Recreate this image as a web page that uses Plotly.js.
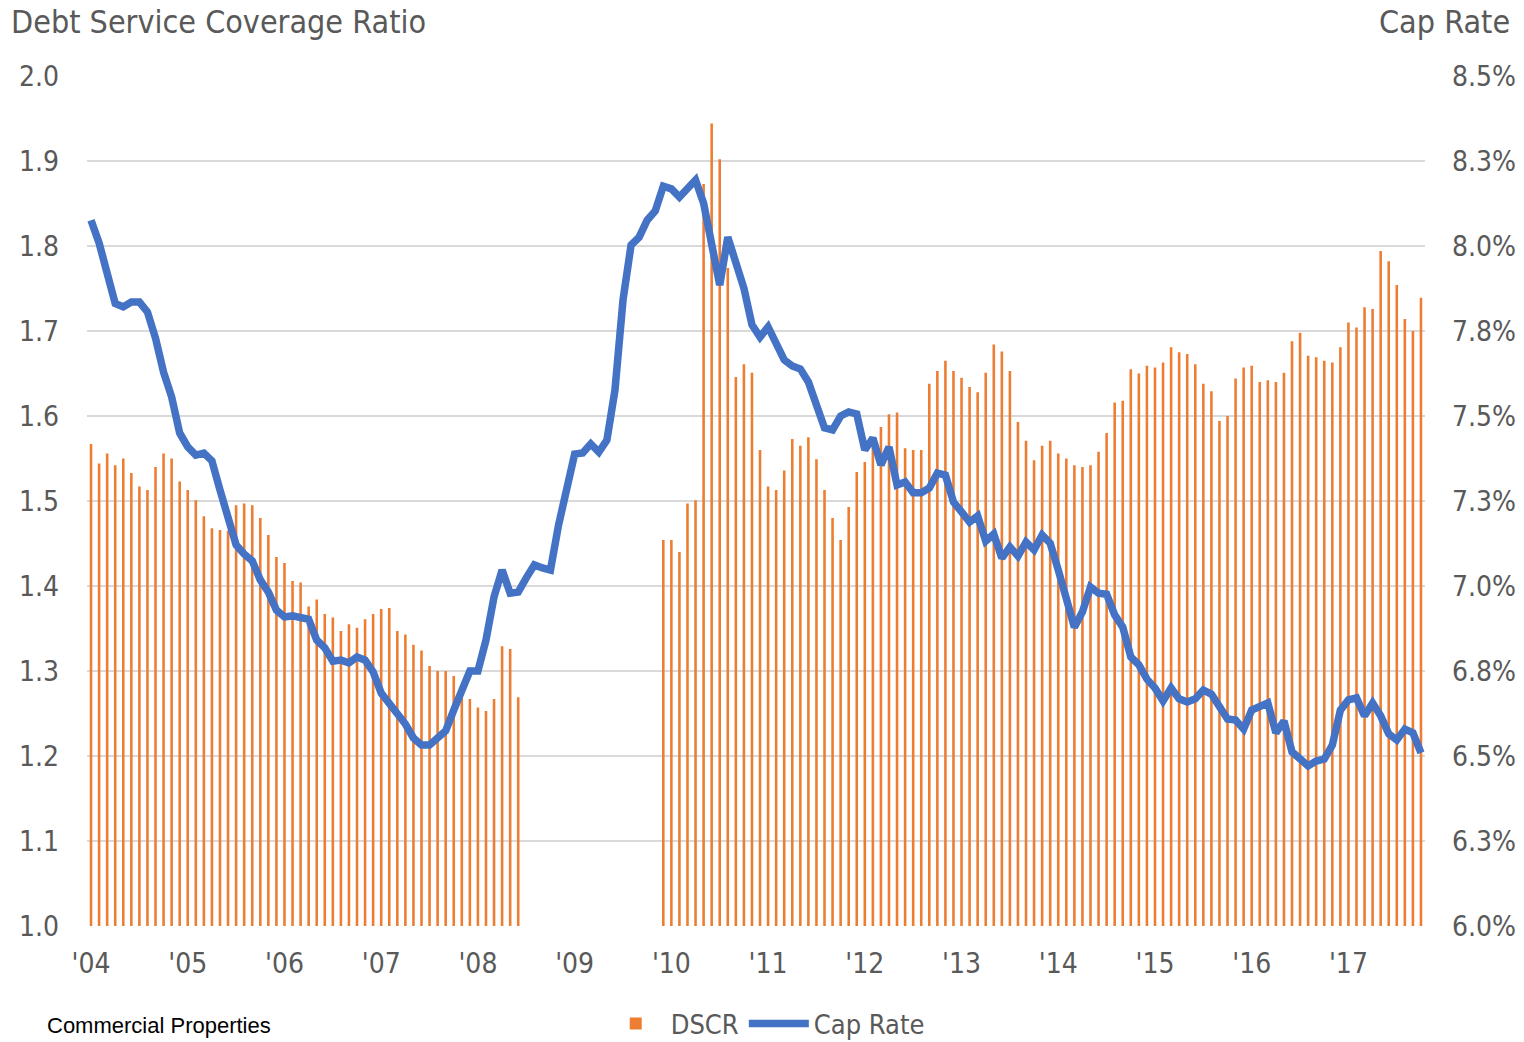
<!DOCTYPE html>
<html>
<head>
<meta charset="utf-8">
<script src="https://cdn.plot.ly/plotly-3.0.1.min.js"></script>
<style>
  html, body { margin: 0; padding: 0; background: #ffffff; }
  #chart { width: 1524px; height: 1042px; }
</style>
</head>
<body>
<div id="chart"></div>
<script>
// Monthly observations, Jan 2004 .. Oct 2017 (index 0 = Jan 2004)
const monthIndex = Array.from({length: 166}, (_, i) => i);

const yearTickPositions = [0, 12, 24, 36, 48, 60, 72, 84, 96, 108, 120, 132, 144, 156];
const yearTickLabels = ["'04", "'05", "'06", "'07", "'08", "'09", "'10", "'11", "'12", "'13", "'14", "'15", "'16", "'17"];

const dscr = [
  // 2004
  1.567, 1.544, 1.556, 1.542, 1.550, 1.533, 1.517, 1.513, 1.540, 1.556, 1.550, 1.523,
  // 2005
  1.513, 1.501, 1.482, 1.468, 1.466, 1.465, 1.495, 1.497, 1.495, 1.480, 1.460, 1.434,
  // 2006
  1.427, 1.406, 1.404, 1.376, 1.384, 1.367, 1.363, 1.347, 1.355, 1.351, 1.361, 1.367,
  // 2007
  1.373, 1.374, 1.347, 1.343, 1.331, 1.324, 1.306, 1.300, 1.300, 1.294, 1.274, 1.267,
  // 2008
  1.257, 1.253, 1.267, 1.329, 1.326, 1.269, null, null, null, null, null, null,
  // 2009
  null, null, null, null, null, null, null, null, null, null, null, 1.454,
  // 2010
  1.454, 1.440, 1.497, 1.501, 1.873, 1.944, 1.902, 1.774, 1.646, 1.661, 1.651, 1.560,
  // 2011
  1.517, 1.513, 1.536, 1.573, 1.565, 1.575, 1.549, 1.513, 1.480, 1.454, 1.493, 1.534,
  // 2012
  1.546, 1.565, 1.587, 1.602, 1.604, 1.562, 1.560, 1.560, 1.638, 1.653, 1.665, 1.653,
  // 2013
  1.645, 1.634, 1.628, 1.651, 1.684, 1.676, 1.653, 1.593, 1.571, 1.548, 1.565, 1.571,
  // 2014
  1.556, 1.550, 1.542, 1.540, 1.542, 1.558, 1.580, 1.616, 1.618, 1.655, 1.650, 1.659,
  // 2015
  1.657, 1.663, 1.681, 1.675, 1.673, 1.661, 1.638, 1.629, 1.594, 1.600, 1.644, 1.657,
  // 2016
  1.659, 1.640, 1.642, 1.640, 1.651, 1.688, 1.698, 1.671, 1.669, 1.665, 1.663, 1.681,
  // 2017
  1.710, 1.704, 1.728, 1.726, 1.794, 1.782, 1.754, 1.714, 1.700, 1.739
];

const capRate = [
  // 2004
  8.076, 8.009, 7.920, 7.831, 7.821, 7.835, 7.835, 7.806, 7.729, 7.629, 7.556, 7.450,
  // 2005
  7.409, 7.385, 7.391, 7.368, 7.282, 7.191, 7.121, 7.094, 7.074, 7.018, 6.982, 6.929,
  // 2006
  6.909, 6.912, 6.905, 6.902, 6.841, 6.818, 6.779, 6.782, 6.774, 6.791, 6.782, 6.747,
  // 2007
  6.685, 6.656, 6.621, 6.594, 6.553, 6.532, 6.532, 6.556, 6.574, 6.635, 6.688, 6.750,
  // 2008
  6.750, 6.841, 6.968, 7.047, 6.979, 6.982, 7.024, 7.062, 7.053, 7.047, 7.179, 7.282,
  // 2009
  7.388, 7.391, 7.418, 7.394, 7.429, 7.576, 7.841, 8.003, 8.026, 8.076, 8.103, 8.176,
  // 2010
  8.168, 8.144, 8.171, 8.194, 8.126, 7.997, 7.885, 8.026, 7.959, 7.876, 7.768, 7.732,
  // 2011
  7.762, 7.712, 7.665, 7.647, 7.638, 7.600, 7.529, 7.465, 7.459, 7.500, 7.512, 7.506,
  // 2012
  7.400, 7.435, 7.356, 7.409, 7.297, 7.306, 7.274, 7.274, 7.288, 7.332, 7.326, 7.247,
  // 2013
  7.218, 7.188, 7.206, 7.132, 7.153, 7.082, 7.115, 7.088, 7.129, 7.106, 7.150, 7.126,
  // 2014
  7.047, 6.965, 6.879, 6.924, 6.997, 6.979, 6.976, 6.915, 6.879, 6.791, 6.768, 6.726,
  // 2015
  6.700, 6.662, 6.700, 6.668, 6.659, 6.668, 6.694, 6.682, 6.641, 6.609, 6.606, 6.579,
  // 2016
  6.635, 6.644, 6.656, 6.568, 6.603, 6.512, 6.494, 6.471, 6.485, 6.491, 6.532, 6.635,
  // 2017
  6.665, 6.671, 6.618, 6.656, 6.618, 6.565, 6.547, 6.579, 6.568, 6.509
];

const leftTickVals = [1.0, 1.1, 1.2, 1.3, 1.4, 1.5, 1.6, 1.7, 1.8, 1.9, 2.0];
const leftTickText = ["1.0", "1.1", "1.2", "1.3", "1.4", "1.5", "1.6", "1.7", "1.8", "1.9", "2.0"];
const rightTickVals = [6.0, 6.25, 6.5, 6.75, 7.0, 7.25, 7.5, 7.75, 8.0, 8.25, 8.5];
const rightTickText = ["6.0%", "6.3%", "6.5%", "6.8%", "7.0%", "7.3%", "7.5%", "7.8%", "8.0%", "8.3%", "8.5%"];

const FONT = "'Liberation Sans Narrow', 'Arial Narrow', 'DejaVu Sans Condensed', sans-serif";
const GREY = '#595959';

const traces = [
  {
    type: 'bar',
    name: 'DSCR',
    x: monthIndex,
    y: dscr,
    marker: { color: '#ED7D31', line: { width: 0 } },
    yaxis: 'y',
    hoverinfo: 'skip'
  },
  {
    type: 'scatter',
    mode: 'lines',
    name: 'Cap Rate',
    x: monthIndex,
    y: capRate,
    line: { color: '#4472C4', width: 7.5, shape: 'linear' },
    yaxis: 'y2',
    hoverinfo: 'skip'
  }
];

const layout = {
  width: 1524,
  height: 1042,
  paper_bgcolor: '#ffffff',
  plot_bgcolor: '#ffffff',
  margin: { l: 87, r: 99, t: 76, b: 116, autoexpand: false },
  font: { family: FONT, color: GREY, size: 28 },
  bargap: 0.68,
  showlegend: true,
  legend: {
    orientation: 'h',
    x: 0.5069, xanchor: 'center',
    y: -0.1153, yanchor: 'middle',
    font: { family: FONT, size: 27, color: GREY },
    traceorder: 'normal',
    itemwidth: 60
  },
  xaxis: {
    range: [-0.5, 165.5],
    tickmode: 'array',
    tickvals: yearTickPositions,
    ticktext: yearTickLabels,
    showgrid: false,
    zeroline: false,
    showline: false,
    ticks: '',
    ticklabelstandoff: 18,
    tickfont: { family: FONT, size: 28, color: GREY },
    fixedrange: true
  },
  yaxis: {
    range: [1.0, 2.0],
    tickmode: 'array',
    tickvals: leftTickVals,
    ticktext: leftTickText,
    showgrid: true,
    gridcolor: '#D9D9D9',
    gridwidth: 2.5,
    zeroline: false,
    showline: false,
    ticks: '',
    ticklabelstandoff: 27,
    tickfont: { family: FONT, size: 28, color: GREY },
    fixedrange: true
  },
  yaxis2: {
    range: [6.0, 8.5],
    overlaying: 'y',
    side: 'right',
    tickmode: 'array',
    tickvals: rightTickVals,
    ticktext: rightTickText,
    showgrid: false,
    zeroline: false,
    showline: false,
    ticks: '',
    ticklabelstandoff: 26,
    tickfont: { family: FONT, size: 28, color: GREY },
    fixedrange: true
  },
  annotations: [
    {
      text: 'Debt Service Coverage Ratio',
      xref: 'paper', yref: 'paper',
      x: -0.058, xanchor: 'left',
      y: 1.0635, yanchor: 'middle',
      showarrow: false,
      font: { family: FONT, size: 32, color: GREY }
    },
    {
      text: 'Cap Rate',
      xref: 'paper', yref: 'paper',
      x: 1.0650, xanchor: 'right',
      y: 1.0635, yanchor: 'middle',
      showarrow: false,
      font: { family: FONT, size: 32, color: GREY }
    },
    {
      text: 'Commercial Properties',
      xref: 'paper', yref: 'paper',
      x: -0.0314, xanchor: 'left',
      y: -0.1340, yanchor: 'bottom',
      showarrow: false,
      font: { family: "'Liberation Sans', Arial, sans-serif", size: 22, color: '#000000' }
    }
  ]
};

Plotly.newPlot('chart', traces, layout, { displayModeBar: false, staticPlot: true });
</script>
</body>
</html>
